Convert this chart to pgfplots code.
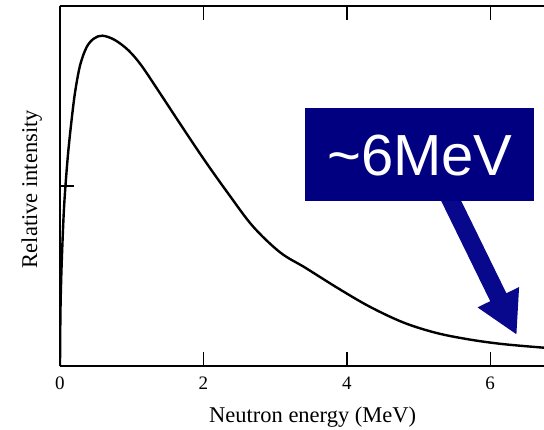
\documentclass[border=0pt]{standalone}
\usepackage{pgfplots}
\pgfplotsset{compat=1.18}
\usepackage{fontspec}
\setmainfont{Liberation Serif}
\newfontfamily\boxfont{Liberation Sans}
\usetikzlibrary{arrows.meta}
\definecolor{boxblue}{RGB}{0,0,128}
\definecolor{arrowblue}{RGB}{8,8,140}

\begin{document}
\begin{tikzpicture}
\begin{axis}[
  scale only axis,
  width=484bp, height=359.7bp,
  xmin=0, xmax=6.75,
  ymin=0, ymax=2,
  axis x line*=box,
  axis y line*=left,
  axis line style={line width=1.6bp},
  tick align=inside,
  major tick length=14bp,
  every tick/.style={black, line width=1.4bp},
  xtick={0,2,4,6},
  ytick={1},
  yticklabels={},
  /pgf/number format/assume math mode=true,
  xticklabel style={font=\fontsize{19bp}{21bp}\selectfont, anchor=base, yshift=-24bp},
  xlabel={Neutron energy (MeV)},
  ylabel={Relative intensity},
  xlabel style={font=\fontsize{22.5bp}{25bp}\selectfont,
    at={(axis description cs:0.522,-0.159)}, anchor=base},
  ylabel style={font=\fontsize{22.5bp}{25bp}\selectfont,
    at={(axis description cs:-0.0475,0.491)}, anchor=base},
  clip=true,
]
% Fission neutron energy spectrum
\addplot[black, line width=2.4bp, smooth, tension=0.55] coordinates {
  (0,0) (0.006,0.29) (0.018,0.5) (0.035,0.69) (0.055,0.87) (0.08,1.02)
  (0.115,1.19) (0.16,1.36) (0.21,1.52) (0.28,1.67) (0.37,1.77)
  (0.47,1.818) (0.59,1.835) (0.76,1.812) (0.95,1.755) (1.13,1.672)
  (1.37,1.53) (1.70,1.33) (2.02,1.14) (2.35,0.955) (2.69,0.775)
  (3.07,0.63) (3.42,0.545) (3.88,0.43) (4.32,0.328) (4.79,0.24)
  (5.25,0.182) (5.72,0.145) (6.18,0.12) (6.75,0.10)
};
% Callout: arrow pointing at the high-energy tail
\draw[arrowblue, line width=18bp,
  -{Triangle[width=43bp, length=42bp]}]
  (axis cs:5.30,1.043) -- (axis cs:6.37,0.171);
\fill[boxblue] (axis cs:3.417,0.915) rectangle (axis cs:6.61,1.432);
\node[text=white, font=\boxfont\fontsize{58bp}{60bp}\selectfont]
  at (axis cs:5.02,1.17) {\char"7E 6MeV};
\end{axis}
\pgfresetboundingbox
\path[use as bounding box]
  ([shift={(-60bp,-64.3bp)}]current axis.south west)
  rectangle ([shift={(0bp,6bp)}]current axis.north east);
\end{tikzpicture}
\end{document}
